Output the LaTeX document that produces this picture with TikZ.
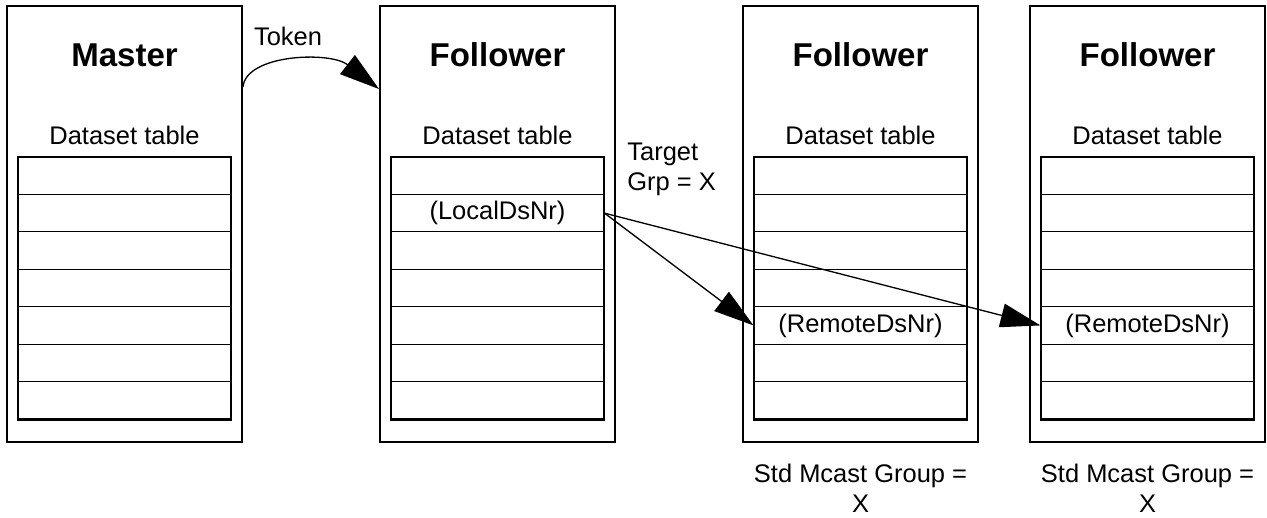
\documentclass[tikz,border=0pt]{standalone}
\usepackage{fontspec}
\setmainfont{Liberation Sans}
\usetikzlibrary{positioning,arrows.meta,calc}

\begin{document}
\begin{tikzpicture}[x=0.02cm, y=-0.02cm,
    box/.style={draw, line width=1.1pt, minimum width=4.7cm, minimum height=8.72cm, inner sep=0pt},
    row/.style={draw, line width=0.6pt, minimum width=4.26cm, minimum height=0.7486cm, inner sep=0pt},
    title/.style={font=\fontsize{18.8}{22}\selectfont\bfseries, inner sep=0pt},
    lbl/.style={font=\fontsize{14.5}{17}\selectfont, inner sep=0pt},
    link/.style={line width=0.75pt, -{Triangle[length=0.8cm, width=0.48cm]}}]
    %
    \useasboundingbox (0,0) rectangle (1267,517);
    %
    \foreach \cx/\nm/\ttl in {124.5/master/Master, 497.5/fol1/Follower,
                              860.5/fol2/Follower, 1147.5/fol3/Follower} {
        \node[box] (\nm) at (\cx, 224) {};
        \node[title] (\nm-ttl) at (\cx, 55) {\ttl};
        \node[lbl] (\nm-tbl) at (\cx, 135) {Dataset table};
        \foreach \i in {1,...,7}
            \node[row] (\nm-r\i) at (\cx, {157+(\i-0.5)*37.43}) {};
        \draw[line width=1.1pt] (\nm-r1.north west) rectangle (\nm-r7.south east);
    }
    %
    \node[lbl] (localnr) at (fol1-r2) {(LocalDsNr)};
    \node[lbl] (remnr2) at (fol2-r5) {(RemoteDsNr)};
    \node[lbl] (remnr3) at (fol3-r5) {(RemoteDsNr)};
    %
    \coordinate (tokA) at ([yshift=-1.64cm]master.north east);
    \coordinate (tokB) at ([yshift=-1.68cm]fol1.north west);
    \draw[link] (tokA) .. controls +(3,-33) and +(-49,-38) .. (tokB);
    \node[lbl] (token) at (288,36.5) {Token};
    %
    \node[lbl, align=left, anchor=west] (target) at (627,169.5) {Target\\Grp = X};
    \draw[link] (fol1-r2.east) -- (fol2-r5.west);
    \draw[link] (fol1-r2.east) -- (fol3-r5.west);
    %
    \node[lbl, align=center] (grp2) at (860.5,488) {Std Mcast Group =\\X};
    \node[lbl, align=center] (grp3) at (1147.5,488) {Std Mcast Group =\\X};
\end{tikzpicture}
\end{document}
